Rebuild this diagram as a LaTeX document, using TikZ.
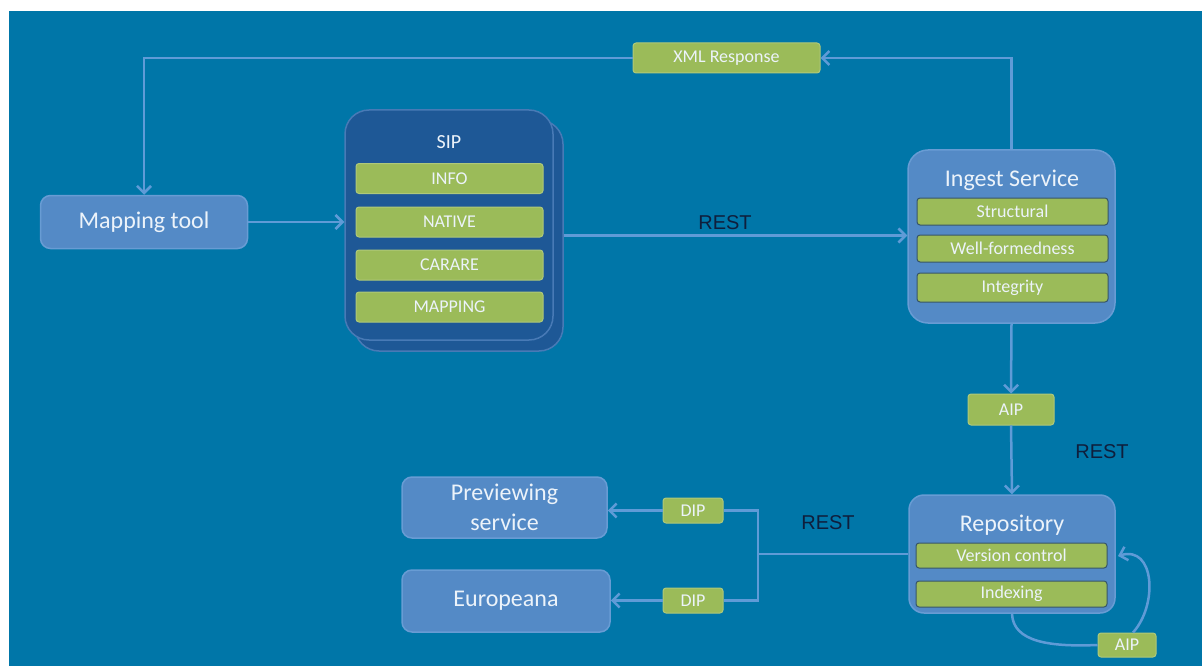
\documentclass[tikz,border=0pt]{standalone}
\usepackage{fontspec}
\setmainfont{Carlito}
\newfontfamily\arialf{Liberation Sans}
\usetikzlibrary{arrows.meta}
\definecolor{bg}{RGB}{0,118,168}
\definecolor{boxc}{RGB}{84,138,198}
\definecolor{boxb}{RGB}{104,156,212}
\definecolor{sipc}{RGB}{30,88,150}
\definecolor{sipb}{RGB}{72,122,182}
\definecolor{grn}{RGB}{155,187,89}
\definecolor{grnb}{RGB}{55,85,105}
\definecolor{linec}{RGB}{95,155,215}
\definecolor{txt}{RGB}{236,243,250}
\definecolor{restc}{RGB}{15,30,60}
\tikzset{
  bluebox/.style={draw=boxb, line width=1.5pt, fill=boxc, rounded corners=10pt, text=txt,
    font=\fontsize{24}{30}\selectfont, align=center, inner sep=0pt},
  sipbox/.style={draw=sipb, line width=1.5pt, fill=sipc, rounded corners=24pt, inner sep=0pt},
  gbar/.style={draw=grnb, line width=1pt, fill=grn, rounded corners=3pt, text=txt,
    font=\fontsize{18}{20}\selectfont, inner sep=0pt},
  gbarl/.style={gbar, draw=grn!80!white},
  title/.style={text=txt, font=\fontsize{24}{28}\selectfont, inner sep=0pt},
  conn/.style={draw=linec, line width=2.5pt},
  arr/.style={conn, -{Straight Barb[length=7pt,width=14pt,line width=2.5pt]}},
  restlbl/.style={text=restc, font=\arialf\fontsize{20}{24}\selectfont, inner sep=0pt}
}
\begin{document}
\begin{tikzpicture}[x=1pt,y=-1pt]
\useasboundingbox (0,0) rectangle (1202,666);
\fill[white] (0,0) rectangle (1202,666);
\fill[bg] (9,11) rectangle (1202,666);

% Mapping tool
\node[bluebox, minimum width=207pt, minimum height=53pt] (map) at (144,222) {Mapping tool};

% SIP stack
\node[sipbox, minimum width=208pt, minimum height=231pt] (sipback) at (459,235.5) {};
\node[sipbox, minimum width=208pt, minimum height=230pt] (sip) at (449,225) {};
\node[title, font=\fontsize{20}{22}\selectfont] (siptitle) at (449,142) {SIP};
\node[gbarl, minimum width=187pt, minimum height=30pt] (info) at (449.5,178.5) {INFO};
\node[gbarl, minimum width=187pt, minimum height=30pt] (native) at (449.5,222) {NATIVE};
\node[gbarl, minimum width=187pt, minimum height=30pt] (carare) at (449.5,265) {CARARE};
\node[gbarl, minimum width=187pt, minimum height=30pt] (mapping) at (449.5,307) {MAPPING};

% Ingest service
\node[bluebox, rounded corners=20pt, minimum width=207pt, minimum height=173pt] (ingest) at (1011.5,236.5) {};
\node[title] (ingtitle) at (1012,180) {Ingest Service};
\node[gbar, minimum width=191pt, minimum height=27pt] (struct) at (1012.5,211.5) {Structural};
\node[gbar, minimum width=191pt, minimum height=27pt] (wellf) at (1012.5,248.5) {Well-formedness};
\node[gbar, minimum width=191pt, minimum height=29pt] (integ) at (1012.5,287.5) {Integrity};

% XML response
\node[gbarl, minimum width=187pt, minimum height=30pt] (xml) at (726.5,58) {XML Response};

% AIP
\node[gbarl, minimum width=86pt, minimum height=31pt] (aip1) at (1011,409.5) {AIP};

% Repository
\node[bluebox, rounded corners=15pt, minimum width=206pt, minimum height=118pt] (repo) at (1012,554) {};
\node[title] (repotitle) at (1012,525) {Repository};
\node[gbar, minimum width=191pt, minimum height=25pt] (version) at (1011.5,555.5) {Version control};
\node[gbar, minimum width=191pt, minimum height=26pt] (index) at (1011.5,594) {Indexing};
\node[gbarl, minimum width=58pt, minimum height=24pt] (aip2) at (1127,645) {AIP};

% Consumers
\node[bluebox, minimum width=205pt, minimum height=61pt] (prev) at (504.5,507.5) {Previewing\\service};
\node[bluebox, minimum width=208pt, minimum height=62pt] (europeana) at (506,601) {Europeana};
\node[gbarl, minimum width=60pt, minimum height=25pt] (dip1) at (693,510.5) {DIP};
\node[gbarl, minimum width=60pt, minimum height=25pt] (dip2) at (693,600.5) {DIP};

% REST labels
\node[restlbl] (rest1) at (725,223) {REST};
\node[restlbl] (rest2) at (1102,452) {REST};
\node[restlbl] (rest3) at (828,523) {REST};

% Connectors
\draw[arr] (map.east) -- (map.east -| sip.west);
\draw[arr] (sipback.east) -- (sipback.east -| ingest.west);
\draw[arr] (ingest.north) |- (xml.east);
\draw[arr] (xml.west) -| (map.north);
\draw[arr] (ingest.south) -- (aip1.north);
\draw[arr] (aip1.south) -- (repo.north);

\coordinate (jt) at (758,510.5);
\coordinate (jb) at (758,600.5);
\draw[conn] (repo.west) -- (repo.west -| jt);
\draw[conn] (dip1.east) -- (jt) -- (jb) -- (dip2.east);
\draw[arr] (dip1.west) -- (dip1.west -| prev.east);
\draw[arr] (dip2.west) -- (dip2.west -| europeana.east);

% loop
\coordinate (loopend) at (1118,556);
\draw[conn] (repo.south) .. controls (1013,642) and (1050,647) .. (aip2.west);
\draw[arr] ([xshift=6pt]aip2.north) .. controls (1158,605) and (1155,545) .. (loopend);
\end{tikzpicture}
\end{document}
